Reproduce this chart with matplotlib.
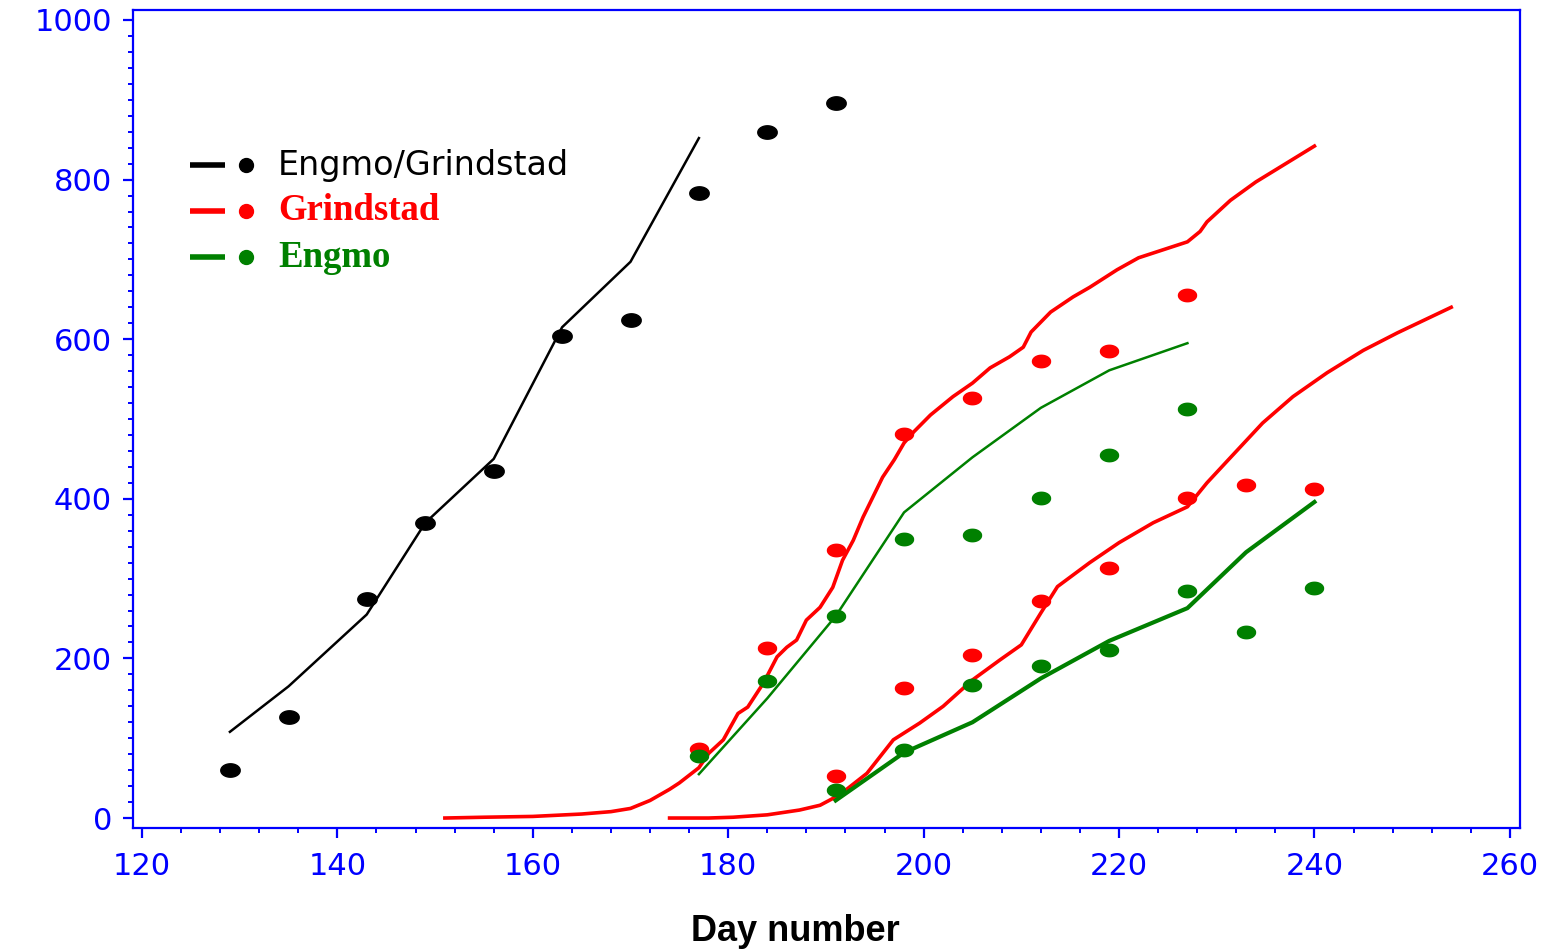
import matplotlib
matplotlib.use("Agg")
import matplotlib.pyplot as plt
import numpy as np
from matplotlib.path import Path
from matplotlib.ticker import MultipleLocator

# observed points (weekly)
obs_days_eg = [129, 135, 143, 149, 156, 163, 170, 177, 184, 191]
obs_eg = [60, 127, 274, 370, 435, 604, 624, 783, 860, 896]

obs_days_1 = [177, 184, 191, 198, 205, 212, 219, 227]
obs_grind_1 = [86, 213, 336, 481, 526, 573, 585, 655]
obs_engmo_1 = [78, 172, 253, 350, 355, 401, 455, 513]

obs_days_2 = [191, 198, 205, 212, 219, 227, 233, 240]
obs_grind_2 = [53, 163, 204, 272, 313, 401, 417, 412]
obs_engmo_2 = [35, 85, 167, 190, 210, 284, 233, 288]

# model lines
mod_days_eg = [129, 135, 143, 149, 156, 163, 170, 177]
mod_eg = [108, 165, 255, 370, 450, 615, 697, 852]

mod_days_engmo_1 = [177, 184, 191, 198, 205, 212, 219, 227]
mod_engmo_1 = [55, 150, 253, 383, 452, 514, 561, 595]

mod_days_engmo_2 = [191, 198, 205, 212, 219, 227, 233, 240]
mod_engmo_2 = [22, 82, 120, 175, 222, 263, 333, 396]

mod_days_grind_1 = [151, 155, 160, 165, 168, 170, 172, 174, 175, 177, 178, 179.5,
                    181, 182, 183.6, 185, 186, 187, 188, 189.4, 190.7, 191.7,
                    192.8, 193.8, 194.8, 195.8, 197, 198, 199, 200.7, 203, 205,
                    206.8, 208.8, 210.2, 211, 213, 215.3, 217, 219.8, 222, 225.5,
                    227, 228.3, 229, 231.4, 234, 237.2, 240]
mod_grind_1 = [0, 1, 2, 5, 8, 12, 22, 36, 44, 63, 81, 98,
               131, 139, 169, 202, 214, 223, 248, 264, 289, 323,
               348, 377, 402, 427, 449, 470, 484, 505, 528, 545,
               564, 578, 590, 609, 634, 653, 665, 687, 702, 716,
               722, 735, 747, 774, 797, 821, 842]

mod_days_grind_2 = [174, 178, 180.5, 184, 187.3, 189.4, 191.4, 194.2, 196.9,
                    199.6, 202, 205, 207.8, 210, 212, 213.7, 217, 220, 223.5,
                    227, 229, 231.2, 234.7, 237.8, 241.3, 245, 248.5, 254]
mod_grind_2 = [0, 0, 1, 4, 10, 16, 29, 56, 98,
               119, 140, 173, 198, 217, 257, 290, 320, 345, 370,
               390, 420, 449, 495, 528, 558, 586, 608, 640]

BLUE = "#0000ff"
RED = "#ff0000"
GREEN = "#008000"

theta = np.linspace(0, 2 * np.pi, 41)
ellipse = Path(np.column_stack([1.45 * np.cos(theta), np.sin(theta)]))

fig = plt.figure(figsize=(15.68, 9.51), dpi=100)
ax = fig.add_axes([133 / 1568, 123 / 951, 1387 / 1568, 818 / 951])

ax.plot(mod_days_eg, mod_eg, color="black", lw=1.8, zorder=2)
ax.plot(mod_days_grind_1, mod_grind_1, color=RED, lw=2.6, zorder=2)
ax.plot(mod_days_grind_2, mod_grind_2, color=RED, lw=2.6, zorder=2)
ax.plot(mod_days_engmo_1, mod_engmo_1, color=GREEN, lw=1.8, zorder=2)
ax.plot(mod_days_engmo_2, mod_engmo_2, color=GREEN, lw=3.0, zorder=2)

ax.plot(obs_days_eg, obs_eg, ls="none", marker=ellipse, ms=14, color="black", zorder=3)
ax.plot(obs_days_1, obs_grind_1, ls="none", marker=ellipse, ms=13, color=RED, zorder=3)
ax.plot(obs_days_2, obs_grind_2, ls="none", marker=ellipse, ms=13, color=RED, zorder=3)
ax.plot(obs_days_1, obs_engmo_1, ls="none", marker=ellipse, ms=13, color=GREEN, zorder=3)
ax.plot(obs_days_2, obs_engmo_2, ls="none", marker=ellipse, ms=13, color=GREEN, zorder=3)

ax.set_xlim(119.08, 261.04)
ax.set_ylim(-12.5, 1012.5)
ax.xaxis.set_major_locator(MultipleLocator(20))
ax.xaxis.set_minor_locator(MultipleLocator(4))
ax.yaxis.set_major_locator(MultipleLocator(200))
ax.yaxis.set_minor_locator(MultipleLocator(20))

for s in ax.spines.values():
    s.set_color(BLUE)
    s.set_linewidth(1.6)
ax.tick_params(which="major", direction="out", length=7, width=1.6, colors=BLUE,
               labelsize=22, top=False, right=False)
ax.tick_params(which="minor", direction="out", length=3.6, width=1.4, colors=BLUE,
               top=False, right=False)
ax.tick_params(axis="x", which="major", pad=10)
ax.tick_params(axis="y", which="major", pad=8)
for lab in ax.get_xticklabels() + ax.get_yticklabels():
    lab.set_color(BLUE)

fig.text(0.507, 0.020, "Day number", ha="center", va="center",
         family="Liberation Sans", weight="bold", fontsize=26)

# legend drawn by hand
leg_rows = [("Engmo/Grindstad", "black", dict(family="DejaVu Sans", fontsize=24)),
            ("Grindstad", RED, dict(family="Liberation Serif", weight="bold", fontsize=26.5)),
            ("Engmo", GREEN, dict(family="Liberation Serif", weight="bold", fontsize=26.5))]
leg_y = [0.8105, 0.7543, 0.698]
for (label, col, fnt), yy in zip(leg_rows, leg_y):
    ax.plot([0.0411, 0.0663], [yy, yy], color=col, lw=4, transform=ax.transAxes,
            solid_capstyle="butt", clip_on=False)
    ax.plot([0.0815], [yy], marker="o", ms=10, color=col, transform=ax.transAxes,
            clip_on=False)
    ax.text(0.1045, yy, label, color=col, va="center", ha="left",
            transform=ax.transAxes, **fnt)

fig.savefig("out.png", dpi=100)
